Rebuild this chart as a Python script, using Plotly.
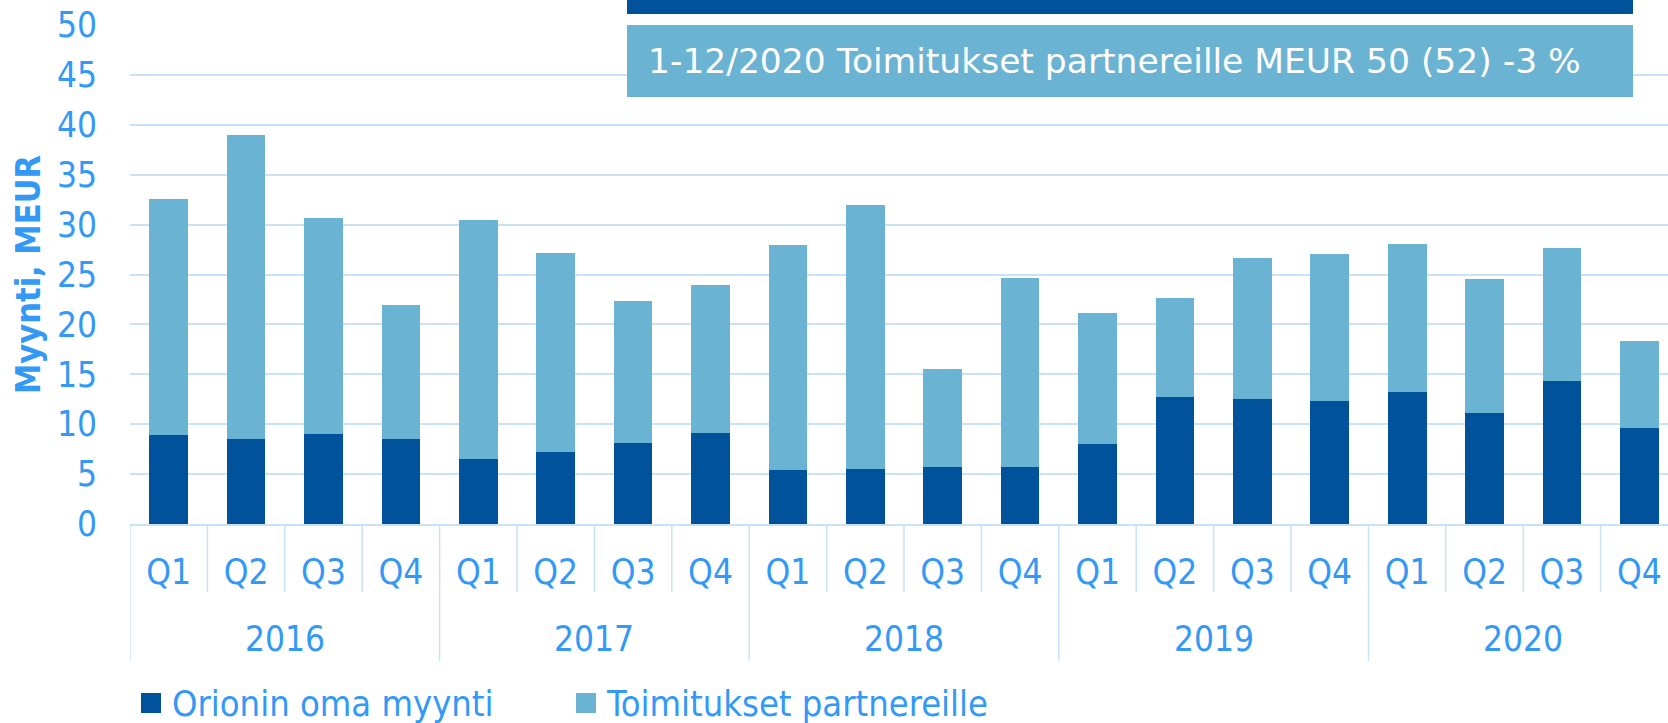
import plotly.graph_objects as go

years = ["2016", "2017", "2018", "2019", "2020"]
quarters = ["Q1", "Q2", "Q3", "Q4"]
own_sales = [8.9, 8.5, 9.0, 8.5,
             6.5, 7.2, 8.1, 9.1,
             5.4, 5.5, 5.7, 5.7,
             8.0, 12.7, 12.5, 12.3,
             13.2, 11.1, 14.3, 9.6]
partner_deliveries = [23.7, 30.45, 21.7, 13.4,
                      24.0, 20.0, 14.2, 14.8,
                      22.6, 26.5, 9.8, 18.9,
                      13.1, 9.9, 14.2, 14.8,
                      14.9, 13.4, 13.4, 8.7]
series_names = ["Orionin oma myynti", "Toimitukset partnereille"]
box_text = "1-12/2020 Toimitukset partnereille MEUR 50 (52) -3 %"
y_title = "Myynti, MEUR"

DARK = "#00539B"
LIGHT = "#6AB3D2"
TXT = "#3399F5"
GRID = "#C8E2F8"
FONT = "DejaVu Sans Condensed, Liberation Sans Narrow, DejaVu Sans"

W, H = 1668, 723
ML, MT, MB = 130, 25, 199
PW = W - ML
PH = H - MT - MB

n = len(years) * len(quarters)
idx = list(range(n))
qlabels = [quarters[i % 4] for i in idx]

fig = go.Figure()
fig.add_trace(go.Bar(x=idx, y=own_sales, name=series_names[0], marker_color=DARK,
                     width=0.5, marker_line_width=0))
fig.add_trace(go.Bar(x=idx, y=partner_deliveries, name=series_names[1], marker_color=LIGHT,
                     width=0.5, marker_line_width=0))

def py(pixel_y):
    # pixel y (from top of figure) -> paper y
    return 1 - (pixel_y - MT) / PH

def px(pixel_x):
    return (pixel_x - ML) / PW

shapes = []
annotations = []
# category separators
for k in range(n + 1):
    b = k - 0.5
    is_year = (k % 4 == 0)
    y1 = py(661) if is_year else py(592)
    shapes.append(dict(type="line", xref="x", yref="paper", x0=b, x1=b, y0=0, y1=y1,
                       line=dict(color=GRID, width=1.5), layer="below"))
# year labels
for j, yr in enumerate(years):
    annotations.append(dict(x=j * 4 + 1.5, y=py(639), xref="x", yref="paper", text=yr,
                            showarrow=False, xanchor="center", yanchor="middle",
                            font=dict(family=FONT, size=35, color=TXT)))
# top boxes
shapes.append(dict(type="rect", xref="paper", yref="paper", x0=px(627), x1=px(1633),
                   y0=py(14), y1=py(-5), fillcolor=DARK, line_width=0, layer="above"))
shapes.append(dict(type="rect", xref="paper", yref="paper", x0=px(627), x1=px(1633),
                   y0=py(97), y1=py(25), fillcolor=LIGHT, line_width=0, layer="above"))
annotations.append(dict(x=px(646), y=py(61), xref="paper", yref="paper", text=box_text,
                        showarrow=False, xanchor="left", yanchor="middle",
                        font=dict(family="DejaVu Sans", size=34.5, color="white")))
# manual legend
leg = [(141, 170, DARK, series_names[0]), (576, 604, LIGHT, series_names[1])]
for mx, tx, col, name in leg:
    shapes.append(dict(type="rect", xref="paper", yref="paper", x0=px(mx), x1=px(mx + 20),
                       y0=py(713), y1=py(693), fillcolor=col, line_width=0))
    annotations.append(dict(x=px(tx), y=py(703), xref="paper", yref="paper", text=name,
                            showarrow=False, xanchor="left", yanchor="middle",
                            font=dict(family=FONT, size=36, color=TXT)))

fig.update_layout(
    barmode="stack",
    width=W, height=H,
    margin=dict(l=ML, r=0, t=MT, b=MB, pad=0),
    plot_bgcolor="white", paper_bgcolor="white",
    showlegend=False,
    shapes=shapes, annotations=annotations,
    xaxis=dict(range=[-0.5, 19.37], tickmode="array", tickvals=idx, ticktext=qlabels,
               tickfont=dict(family=FONT, size=35, color=TXT), showgrid=False,
               zeroline=False, showline=True, linecolor=GRID, linewidth=2,
               ticks="", ticklabelstandoff=16, fixedrange=True),
    yaxis=dict(range=[0, 50], tickmode="array", tickvals=list(range(0, 51, 5)),
               tickfont=dict(family=FONT, size=35, color=TXT), showgrid=True,
               gridcolor=GRID, gridwidth=1.5, zeroline=False, showline=False,
               ticks="", ticklabelstandoff=32,
               title=dict(text="<b>" + y_title + "</b>", standoff=6,
                          font=dict(family=FONT, size=34, color=TXT))),
)

fig.write_html("out.html", config={"displayModeBar": False},
               post_script="document.body.style.margin='0';document.body.style.overflow='hidden';")
